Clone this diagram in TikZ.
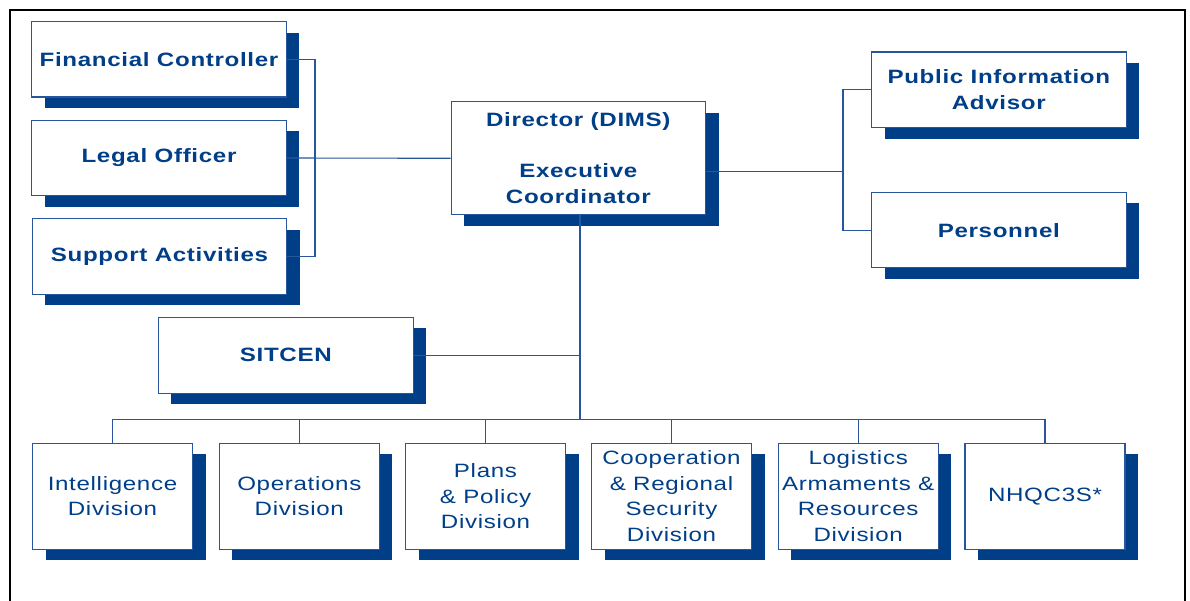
\documentclass[tikz,border=0pt]{standalone}
\usepackage{fontspec}
\setmainfont{Liberation Sans}
\newfontfamily\orgfont[FakeStretch=1.25,LetterSpace=3.5]{Liberation Sans}
\usepackage{xcolor}
\usepackage{tikz}
\usetikzlibrary{shadows,calc}
\definecolor{dimsblue}{RGB}{0,63,136}
\definecolor{linkblue}{RGB}{40,85,155}

\begin{document}
\begin{tikzpicture}[x=1pt,y=-1pt]
            \tikzset{unit/.style = {draw=linkblue, line width=1.1pt, fill=white, text=dimsblue, align=center, inner sep=0pt,
                font=\orgfont\fontsize{19.3}{25.5}\selectfont,
                drop shadow={shadow xshift=13pt, shadow yshift=-11pt, fill=dimsblue, opacity=1}}}
            \tikzset{office/.style = {unit, font=\orgfont\bfseries\fontsize{19.3}{25.5}\selectfont, minimum width=254.5pt, minimum height=75.5pt}}
            \tikzset{division/.style = {unit, minimum width=160pt, minimum height=106pt}}
            \tikzset{link/.style = {draw=linkblue, line width=1.1pt}}

            \useasboundingbox (0,0) rectangle (1190,601);
            \clip (0,0) rectangle (1190,601);
            \draw[line width=2pt] (10,10) rectangle (1185,640);

            % offices
            \node[office] (fin) at (159,59.3) {Financial Controller};
            \node[office] (legal) at (159,158) {Legal Officer};
            \node[office] (supp) at (159.5,256.5) {Support Activities};
            \node[office, minimum height=113.3pt] (dir) at (578.3,158.3) {Director (DIMS)\\[25.5pt]Executive\\Coordinator};
            \node[office] (pia) at (998.8,89.8) {Public Information\\Advisor};
            \node[office] (pers) at (998.8,230.2) {Personnel};
            \node[office, minimum width=255pt, minimum height=76pt] (sit) at (285.8,355.3) {SITCEN};

            % divisions
            \foreach \n/\x/\txt in {1/112.5/{Intelligence\\Division},
                                    2/299.3/{Operations\\Division},
                                    3/485.5/{Plans\\\& Policy\\Division},
                                    4/671.5/{Cooperation\\\& Regional\\Security\\Division},
                                    5/858.2/{Logistics\\Armaments \&\\Resources\\Division},
                                    6/1045/{NHQC3S*}}
            {
              \node[division] (d\n) at (\x,496.2) {\txt};
            }

            % links
            \coordinate (lbus) at (315,158);
            \coordinate (rbus) at (843,171.7);
            \coordinate (dbus) at (580,419.3);
            \draw[link] (fin.east) -| (lbus) |- (supp.east);
            \draw[link] (legal.east) -- (dir.west);
            \draw[link] (dir.east |- rbus) -- (rbus);
            \draw[link] (pia.west) -| (rbus) |- (pers.west);
            \draw[link] (dir.south -| dbus) -- (dbus);
            \draw[link] (sit.east) -- (sit.east -| dbus);
            \draw[link] (d1.north) |- (dbus) -| (d6.north);
            \foreach \n in {2,...,5} {\draw[link] (d\n.north) -- (d\n.north |- dbus);}

\end{tikzpicture}
\end{document}
